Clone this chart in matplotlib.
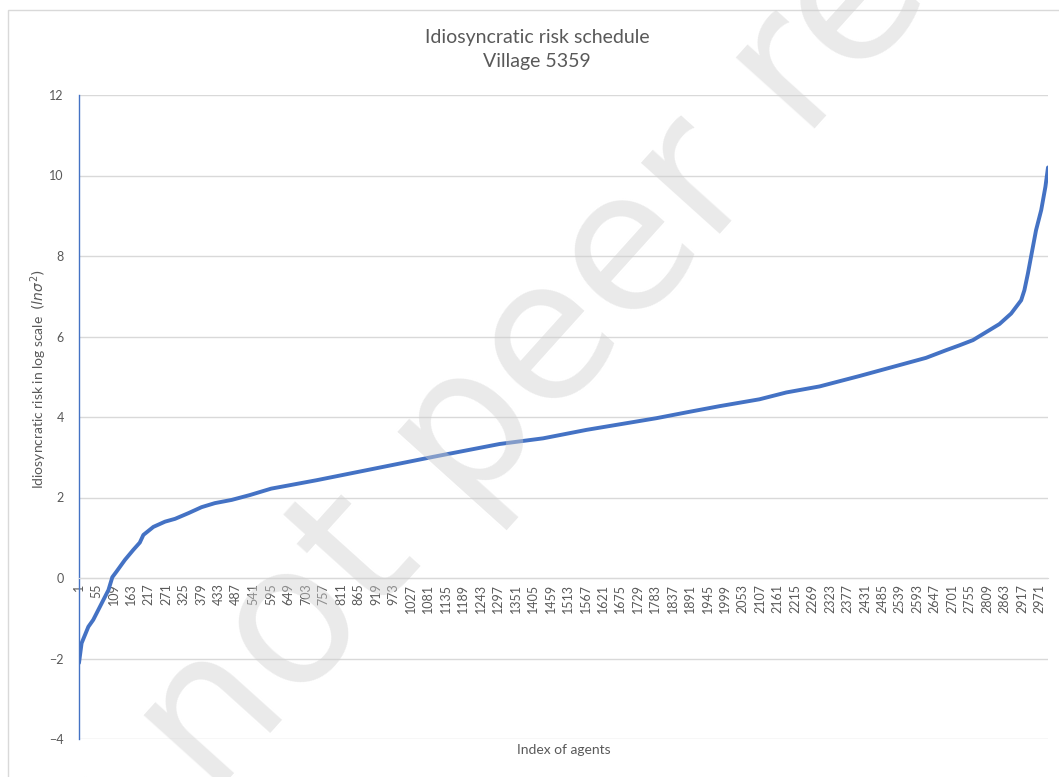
import matplotlib.pyplot as plt
from matplotlib.patches import Rectangle

# values (agent index -> ln sigma^2)
agent_index = [1, 9, 30, 45, 71, 92, 104, 117, 143, 169, 189, 200, 231, 267, 298,
               339, 380, 421, 473, 529, 595, 649, 736, 916, 1096, 1302, 1436, 1570,
               1786, 1889, 1982, 2105, 2188, 2291, 2415, 2538, 2620, 2682, 2723,
               2765, 2847, 2883, 2914, 2924, 2935, 2945, 2960, 2976, 2989, 2997]
log_risk = [-2.11, -1.62, -1.21, -1.04, -0.63, -0.30, 0.02, 0.16, 0.45, 0.70, 0.88,
            1.07, 1.27, 1.40, 1.47, 1.61, 1.76, 1.86, 1.94, 2.06, 2.22, 2.30, 2.43,
            2.72, 3.01, 3.33, 3.47, 3.68, 3.97, 4.13, 4.27, 4.44, 4.61, 4.76, 5.02,
            5.29, 5.47, 5.66, 5.78, 5.91, 6.31, 6.57, 6.90, 7.15, 7.57, 8.00, 8.64,
            9.14, 9.72, 10.20]
n_agents = 2997
tick_labels = [str(i) for i in range(1, 2972, 54)]
y_ticks = [-4, -2, 0, 2, 4, 6, 8, 10, 12]

plt.rcParams['font.family'] = ['Lato', 'DejaVu Sans']
grey = '#595959'

fig = plt.figure(figsize=(10.59, 7.77), dpi=100)
ax = fig.add_axes([79 / 1059, 1 - 739 / 777, 969 / 1059, 644 / 777])

# chart area border
fig.patches.append(Rectangle((8 / 1059, -0.05), 1.1, 1 - 10 / 777 + 0.05,
                             transform=fig.transFigure, fill=False,
                             edgecolor='#d9d9d9', linewidth=1))

ax.plot(agent_index, log_risk, color='#4472C4', linewidth=2.8,
        solid_capstyle='round', zorder=3)

ax.set_xlim(1, n_agents)
ax.set_ylim(-4, 12)
ax.set_yticks(y_ticks)
ax.set_xticks([int(t) for t in tick_labels])
ax.set_xticklabels(tick_labels)
ax.tick_params(axis='both', length=0, labelsize=9, labelcolor=grey)
ax.tick_params(axis='y', pad=11)
ax.tick_params(axis='x', pad=4, labelrotation=90)

ax.grid(axis='y', color='#d9d9d9', linewidth=1)
ax.set_axisbelow(True)
for s in ['top', 'right']:
    ax.spines[s].set_visible(False)
ax.spines['bottom'].set_position(('data', 0))
ax.spines['bottom'].set_color('#d9d9d9')
ax.spines['left'].set_color('#4472C4')
ax.spines['left'].set_linewidth(1)

ax.set_xlabel('Index of agents', fontsize=10, color=grey)
ax.xaxis.set_label_coords(0.5, -0.008)
ax.set_ylabel(r'Idiosyncratic risk in log scale  $(ln\sigma^2)$', fontsize=10, color=grey)
ax.yaxis.set_label_coords(-0.031, 0.559)

fig.text(537 / 1059, 1 - 37 / 777, 'Idiosyncratic risk schedule', ha='center',
         va='center', fontsize=14, color=grey)
fig.text(537 / 1059, 1 - 62 / 777, 'Village 5359', ha='center', va='center',
         fontsize=14, color=grey)

# watermark
fig.text(0.46, 0.47, 'Preprint not peer reviewed', rotation=48, ha='center',
         va='center', fontsize=140, color='#d0d0d0', alpha=0.45, zorder=10,
         family='DejaVu Sans')

fig.savefig('out.png', dpi=100)
